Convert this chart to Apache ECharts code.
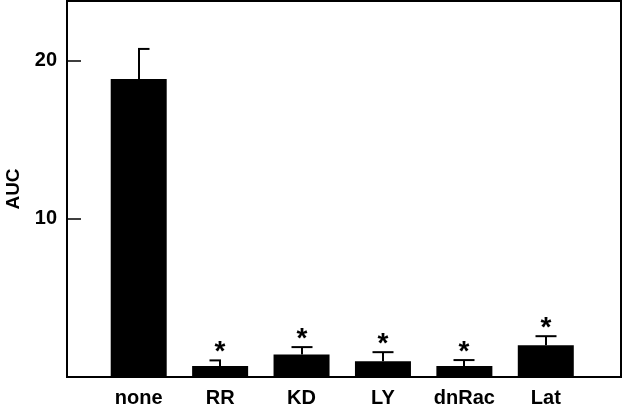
<!DOCTYPE html>
<html>
<head>
<meta charset="utf-8">
<script src="https://cdn.jsdelivr.net/npm/echarts@6/dist/echarts.min.js"></script>
<style>
  html, body { margin: 0; padding: 0; background: #fff; }
  #chart { width: 625px; height: 411px; }
</style>
</head>
<body>
<div id="chart"></div>
<script>
// values
const categories = ["none", "RR", "KD", "LY", "dnRac", "Lat"];
const auc = [18.84, 0.69, 1.43, 1.0, 0.69, 2.0];
const sem = [1.9, 0.36, 0.46, 0.57, 0.38, 0.58];
const significant = [false, true, true, true, true, true];
const yTicks = [10, 20];

// which side of the error cap is drawn (quirk of the original)
const capSides = ["right", "left", "both", "both", "both", "both"];

const FONT = "Liberation Sans, Arial, sans-serif";
const yMax = 23.77;

var chart = echarts.init(document.getElementById("chart"));

function renderErr(params, api) {
  var i = api.value(0);
  var top = api.coord([i, api.value(1) + api.value(2)]);
  var base = api.coord([i, api.value(1)]);
  var x = Math.round(top[0]);
  var half = 10.5;
  var side = capSides[i];
  var x1 = side === "right" ? x - 1 : x - half;
  var x2 = side === "left" ? x + 1 : x + half;
  var kids = [
    { type: "line", shape: { x1: x, y1: base[1], x2: x, y2: top[1] },
      style: { stroke: "#000", lineWidth: 2 } },
    { type: "line", shape: { x1: x1, y1: top[1], x2: x2, y2: top[1] },
      style: { stroke: "#000", lineWidth: 2 } }
  ];
  if (significant[i]) {
    kids.push({ type: "text", style: {
      text: "*", x: x, y: top[1] - 8, align: "center", verticalAlign: "middle",
      font: "bold 28px " + FONT, fill: "#000" } });
  }
  return { type: "group", children: kids };
}

chart.setOption({
  animation: false,
  grid: [
    { left: 67, right: 4, top: 1, bottom: 34, show: true, outerBoundsMode: "none",
      borderColor: "#000", borderWidth: 2, backgroundColor: "transparent" },
    { left: 98, right: 38.5, top: 1, bottom: 34, outerBoundsMode: "none" }
  ],
  xAxis: [
    { gridIndex: 0, type: "value", show: false, min: 0, max: 1 },
    { gridIndex: 1, type: "category", data: categories, boundaryGap: true,
      axisLine: { show: false }, axisTick: { show: false },
      axisLabel: { margin: 11, color: "#000", fontWeight: "bold", fontSize: 20, fontFamily: FONT } }
  ],
  yAxis: [
    { gridIndex: 0, type: "value", min: 0, max: yMax, interval: 10,
      name: "AUC", nameLocation: "middle", nameGap: 44, nameRotate: 90,
      nameTextStyle: { color: "#000", fontWeight: "bold", fontSize: 19, fontFamily: FONT },
      axisLine: { show: false },
      axisTick: { show: true, inside: true, length: 14, lineStyle: { color: "#000", width: 1.5 } },
      splitLine: { show: false },
      axisLabel: { margin: 10, color: "#000", fontWeight: "bold", fontSize: 20, fontFamily: FONT,
        formatter: function (v) { return yTicks.indexOf(v) >= 0 ? String(v) : ""; } } },
    { gridIndex: 1, type: "value", min: 0, max: yMax, show: false }
  ],
  series: [
    { type: "bar", xAxisIndex: 1, yAxisIndex: 1, data: auc, barWidth: 56,
      itemStyle: { color: "#000" }, z: 2 },
    { type: "custom", xAxisIndex: 1, yAxisIndex: 1, renderItem: renderErr, z: 3,
      encode: { x: 0, y: 1 },
      data: categories.map(function (c, i) { return [i, auc[i], sem[i]]; }) }
  ]
});
</script>
</body>
</html>
